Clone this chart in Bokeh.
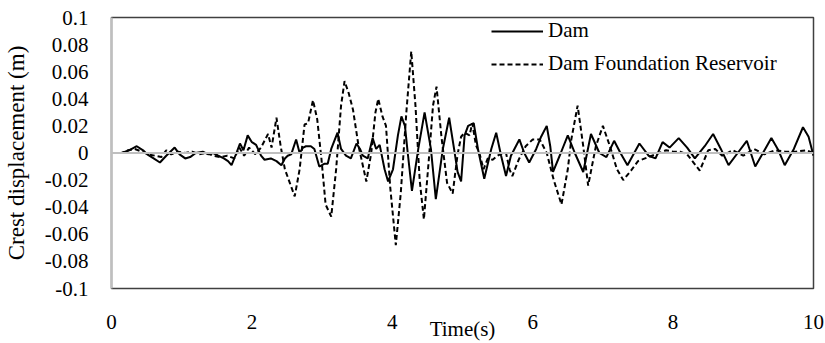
from bokeh.plotting import figure
from bokeh.models import FixedTicker, Span, Legend, LegendItem
from bokeh.embed import file_html
from bokeh.resources import INLINE

# Dam (solid line)
dam_t = [0.00, 0.15, 0.25, 0.36, 0.45, 0.51, 0.60, 0.69, 0.78, 0.90, 0.97, 1.05, 1.12, 1.20, 1.30,
         1.38, 1.45, 1.52, 1.60, 1.66, 1.71, 1.78, 1.83, 1.88, 1.94, 2.00, 2.06, 2.13, 2.18, 2.27,
         2.35, 2.42, 2.47, 2.51, 2.56, 2.63, 2.68, 2.73, 2.77, 2.84, 2.89, 2.96, 3.03, 3.08, 3.13,
         3.22, 3.27, 3.34, 3.41, 3.49, 3.54, 3.58, 3.65, 3.72, 3.77, 3.82, 3.89, 3.94, 4.01, 4.08,
         4.13, 4.18, 4.22, 4.28, 4.37, 4.46, 4.55, 4.62, 4.72, 4.81, 4.88, 4.93, 4.98, 5.03, 5.08,
         5.16, 5.22, 5.31, 5.41, 5.48, 5.55, 5.62, 5.69, 5.81, 5.88, 5.95, 6.05, 6.12, 6.20, 6.25,
         6.29, 6.40, 6.50, 6.60, 6.72, 6.83, 6.95, 7.05, 7.16, 7.25, 7.35, 7.52, 7.65, 7.75, 7.85,
         7.95, 8.08, 8.20, 8.31, 8.45, 8.57, 8.68, 8.79, 8.92, 9.05, 9.17, 9.28, 9.40, 9.50, 9.59,
         9.72, 9.85, 9.93, 10.00]
dam_v = [0.000, 0.000, 0.002, 0.005, 0.002, -0.001, -0.004, -0.007, -0.002, 0.004, -0.001, -0.004, -0.003, 0.000, 0.001,
         -0.001, 0.000, -0.002, -0.004, -0.006, -0.009, 0.000, 0.007, 0.002, 0.013, 0.008, 0.006, -0.002, -0.005, -0.004,
         -0.006, -0.009, -0.004, -0.002, -0.001, 0.010, 0.000, 0.004, 0.005, 0.005, 0.003, -0.010, -0.008, -0.008, 0.003,
         0.015, 0.003, -0.002, -0.004, 0.007, 0.003, -0.002, -0.004, 0.011, 0.003, 0.006, -0.012, -0.021, -0.012, 0.013,
         0.027, 0.020, 0.000, -0.028, 0.003, 0.030, 0.003, -0.034, 0.003, 0.026, 0.003, -0.014, -0.021, 0.013, 0.020,
         0.022, 0.003, -0.019, 0.003, 0.015, -0.002, -0.017, -0.002, 0.010, 0.000, -0.007, 0.003, 0.012, 0.020, 0.005,
         -0.014, 0.000, 0.013, 0.000, -0.014, 0.014, 0.000, -0.003, 0.009, 0.000, -0.009, 0.007, -0.002, -0.004, 0.008,
         0.004, 0.011, 0.004, -0.004, 0.005, 0.014, 0.003, -0.009, 0.000, 0.009, -0.010, 0.000, 0.011, 0.002, -0.009,
         0.003, 0.019, 0.012, -0.002]

# Dam Foundation Reservoir (dashed line)
dfr_t = [0.00, 0.14, 0.24, 0.33, 0.43, 0.52, 0.62, 0.71, 0.78, 0.85, 0.95, 1.05, 1.15, 1.25, 1.35,
         1.45, 1.55, 1.65, 1.75, 1.82, 1.89, 1.96, 2.05, 2.13, 2.23, 2.28, 2.35, 2.41, 2.47, 2.54,
         2.61, 2.68, 2.75, 2.80, 2.87, 2.93, 2.99, 3.05, 3.13, 3.20, 3.27, 3.32, 3.38, 3.44, 3.52,
         3.63, 3.70, 3.76, 3.80, 3.86, 3.91, 3.97, 4.05, 4.12, 4.20, 4.27, 4.33, 4.39, 4.45, 4.52,
         4.58, 4.63, 4.70, 4.78, 4.86, 4.93, 4.98, 5.03, 5.10, 5.14, 5.19, 5.24, 5.30, 5.36, 5.43,
         5.50, 5.57, 5.62, 5.67, 5.71, 5.80, 5.90, 6.00, 6.10, 6.20, 6.30, 6.41, 6.50, 6.55, 6.64,
         6.72, 6.79, 6.90, 7.00, 7.10, 7.20, 7.29, 7.40, 7.50, 7.60, 7.70, 7.80, 7.90, 8.00, 8.10,
         8.20, 8.38, 8.50, 8.60, 8.70, 8.85, 9.00, 9.15, 9.30, 9.45, 9.60, 9.75, 9.90, 10.00]
dfr_v = [0.000, 0.000, 0.002, 0.003, 0.001, -0.001, -0.002, -0.003, 0.002, -0.001, 0.001, 0.000, 0.001, -0.001, 0.000,
         -0.002, -0.003, -0.002, -0.004, 0.004, -0.002, 0.004, -0.001, 0.004, 0.014, 0.004, 0.026, 0.005, -0.012, -0.022,
         -0.032, -0.012, 0.021, 0.022, 0.039, 0.025, -0.004, -0.038, -0.047, -0.012, 0.035, 0.053, 0.044, 0.032, 0.005,
         -0.021, 0.000, 0.030, 0.040, 0.027, 0.020, -0.025, -0.068, -0.030, 0.030, 0.075, 0.035, -0.020, -0.049, -0.005,
         0.035, 0.049, 0.012, -0.022, -0.030, -0.001, 0.012, 0.015, 0.013, 0.022, 0.006, 0.000, -0.012, -0.004, -0.005,
         -0.002, 0.000, 0.000, -0.012, -0.017, -0.005, 0.005, 0.010, 0.010, 0.000, -0.020, -0.038, -0.012, 0.010, 0.035,
         0.005, -0.024, 0.005, 0.020, 0.005, -0.012, -0.020, -0.013, -0.006, -0.004, -0.002, 0.000, 0.002, 0.001, 0.001,
         -0.001, -0.013, 0.002, 0.003, -0.002, 0.002, -0.002, 0.003, -0.001, 0.002, 0.001, 0.001, 0.002, 0.000]

x_ticks = [0, 2, 4, 6, 8, 10]
y_ticks = [-0.1, -0.08, -0.06, -0.04, -0.02, 0.0, 0.02, 0.04, 0.06, 0.08, 0.1]
y_tick_labels = ["-0.1", "-0.08", "-0.06", "-0.04", "-0.02", "0", "0.02", "0.04", "0.06", "0.08", "0.1"]

FONT = "Liberation Serif"

p = figure(width=825, height=343, x_range=(0, 10), y_range=(-0.1, 0.1),
           output_backend="svg", toolbar_location=None,
           min_border_left=110, min_border_right=12, min_border_top=17, min_border_bottom=52)
p.background_fill_color = "white"
p.border_fill_color = "white"
p.outline_line_color = "#404040"
p.outline_line_width = 1.5
p.xgrid.visible = False
p.ygrid.visible = False

p.add_layout(Span(location=0, dimension="width", line_color="#bfbfbf", line_width=2))

r1 = p.line(dam_t, dam_v, line_color="black", line_width=2)
r2 = p.line(dfr_t, dfr_v, line_color="black", line_width=2, line_dash="5 3")

for ax in (p.xaxis, p.yaxis):
    ax.axis_line_color = None
    ax.major_tick_line_color = None
    ax.minor_tick_line_color = None
    ax.major_label_text_font = FONT
    ax.major_label_text_font_size = "21px"
    ax.major_label_text_color = "black"
    ax.axis_label_text_font = FONT
    ax.axis_label_text_font_size = "21px"
    ax.axis_label_text_font_style = "normal"
    ax.axis_label_text_color = "black"

p.xaxis.ticker = FixedTicker(ticks=x_ticks)
p.xaxis.major_label_standoff = 20
p.xaxis.axis_label = "Time(s)"
p.xaxis.axis_label_standoff = -15

p.yaxis.ticker = FixedTicker(ticks=y_ticks)
p.yaxis.major_label_overrides = {t: s for t, s in zip(y_ticks, y_tick_labels)}
p.yaxis.major_label_standoff = 17
p.yaxis.axis_label = "Crest displacement (m)"
p.yaxis.axis_label_text_font_size = "23px"
p.yaxis.axis_label_standoff = 13
p.yaxis.axis_line_color = "#bfbfbf"
p.yaxis.axis_line_width = 2

legend = Legend(items=[LegendItem(label="Dam", renderers=[r1]),
                       LegendItem(label="Dam Foundation Reservoir", renderers=[r2])],
                location=(378, 210), orientation="vertical",
                glyph_width=52, glyph_height=20, label_height=20, label_standoff=5,
                spacing=8, padding=2, margin=0,
                label_text_font=FONT, label_text_font_size="21px", label_text_color="black",
                border_line_alpha=0, background_fill_alpha=0)
p.add_layout(legend)

open("out.html", "w").write(file_html(p, INLINE))
